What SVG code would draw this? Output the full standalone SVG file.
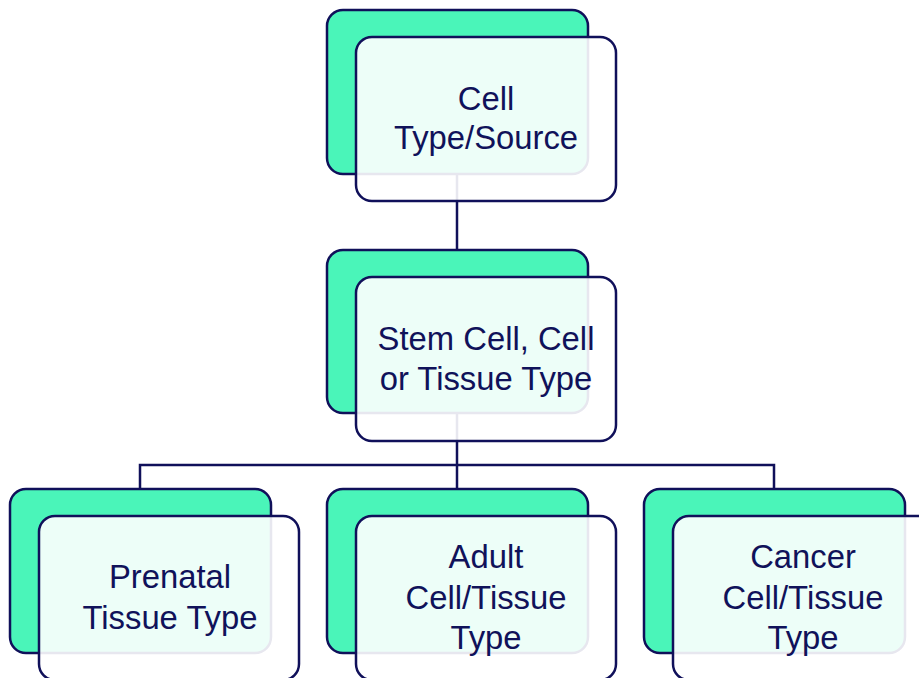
<svg xmlns="http://www.w3.org/2000/svg" width="919" height="678" viewBox="0 0 919 678">
<style>
.back{fill:#4AF5B9;stroke:#10105A;stroke-width:2.5}
.front{fill:#ffffff;fill-opacity:0.9;stroke:#10105A;stroke-width:2.5}
.conn{fill:none;stroke:#10105A;stroke-width:2.5}
text{font-family:"Liberation Sans",Arial,sans-serif;font-size:32.8px;fill:#10125A;text-anchor:middle}
</style>
<rect width="919" height="678" fill="#ffffff"/>
<g id="connectors">
<path class="conn" d="M457,174 V250"/>
<path class="conn" d="M457,413 V489"/>
<path class="conn" d="M140,489 V465 H774 V489"/>
</g>
<g id="node-top">
<rect class="back" x="327" y="10" width="261" height="164" rx="16"/>
<rect class="front" x="356" y="37" width="260" height="164" rx="16"/>
<text x="486" y="110">Cell</text>
<text x="486" y="149">Type/Source</text>
</g>
<g id="node-middle">
<rect class="back" x="327" y="250" width="261" height="163" rx="16"/>
<rect class="front" x="356" y="277" width="260" height="164" rx="16"/>
<text x="486" y="350">Stem Cell, Cell</text>
<text x="486" y="390">or Tissue Type</text>
</g>
<g id="node-prenatal">
<rect class="back" x="10" y="489" width="261" height="164" rx="16"/>
<rect class="front" x="39" y="516" width="260" height="164" rx="16"/>
<text x="170" y="588">Prenatal</text>
<text x="170" y="629">Tissue Type</text>
</g>
<g id="node-adult">
<rect class="back" x="327" y="489" width="261" height="164" rx="16"/>
<rect class="front" x="356" y="516" width="260" height="164" rx="16"/>
<text x="486" y="568">Adult</text>
<text x="486" y="609">Cell/Tissue</text>
<text x="486" y="649">Type</text>
</g>
<g id="node-cancer">
<rect class="back" x="644" y="489" width="261" height="164" rx="16"/>
<rect class="front" x="673" y="516" width="260" height="164" rx="16"/>
<text x="803" y="568">Cancer</text>
<text x="803" y="609">Cell/Tissue</text>
<text x="803" y="649">Type</text>
</g>
</svg>
